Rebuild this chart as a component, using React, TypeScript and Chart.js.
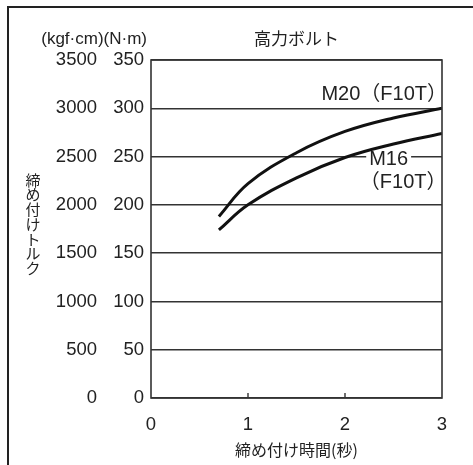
import React, { useEffect, useRef } from "react";
import { Chart, registerables } from "chart.js";

Chart.register(...registerables);

const timeM20 = [0.7, 1.0, 1.5, 2.0, 2.5, 3.0];
const torqueM20 = [188, 222, 254, 276, 290, 300];
const timeM16 = [0.7, 1.0, 1.5, 2.0, 2.5, 3.0];
const torqueM16 = [174, 200, 228, 249, 263, 274];

const title = "高力ボルト";
const unitHeader = "(kgf·cm)(N·m)";
const yTitleChars = ["締", "め", "付", "け", "ト", "ル", "ク"];
const xTitle = "締め付け時間(秒)";
const labelM20 = "M20（F10T）";
const labelM16a = "M16";
const labelM16b = "（F10T）";

const FONT = "'Liberation Sans', 'Noto Sans CJK JP', sans-serif";
const JP = "'Noto Sans CJK JP', 'Liberation Sans', sans-serif";
const INK = "#222";

const deco = {
  id: "deco",
  beforeDraw(chart: any) {
    const ctx = chart.ctx;
    ctx.save();
    ctx.fillStyle = "#fff";
    ctx.fillRect(0, 0, chart.width, chart.height);
    ctx.restore();
  },
  beforeDatasetsDraw(chart: any) {
    const ctx = chart.ctx;
    const x = chart.scales.x;
    const y = chart.scales.y;
    ctx.save();
    ctx.font = `20px ${FONT}`;
    ctx.textAlign = "center";
    ctx.textBaseline = "middle";
    const cx = x.getPixelForValue(2.45);
    const cy = y.getPixelForValue(250) + 3;
    const w = ctx.measureText(labelM16a).width;
    ctx.fillStyle = "#fff";
    ctx.fillRect(cx - w / 2 - 3, cy - 8, w + 6, 14);
    ctx.fillStyle = INK;
    ctx.fillText(labelM16a, cx, cy);
    ctx.restore();
  },
  afterDraw(chart: any) {
    const ctx = chart.ctx;
    const a = chart.chartArea;
    const x = chart.scales.x;
    const y = chart.scales.y;
    ctx.save();
    ctx.strokeStyle = INK;
    ctx.lineWidth = 2;
    ctx.beginPath();
    ctx.moveTo(8, chart.height);
    ctx.lineTo(8, 7);
    ctx.lineTo(chart.width, 7);
    ctx.stroke();
    ctx.strokeStyle = "#333";
    ctx.lineWidth = 1.6;
    ctx.strokeRect(a.left, a.top, a.right - a.left, a.bottom - a.top);
    ctx.lineWidth = 1.4;
    x.ticks.forEach((t: any) => {
      if (t.value <= x.min || t.value >= x.max) return;
      const px = x.getPixelForValue(t.value);
      ctx.beginPath();
      ctx.moveTo(px, a.bottom);
      ctx.lineTo(px, a.bottom - 5);
      ctx.stroke();
    });
    ctx.fillStyle = INK;
    ctx.textBaseline = "middle";
    ctx.textAlign = "center";
    ctx.font = `17px ${JP}`;
    ctx.fillText(title, (a.left + a.right) / 2, 38.5);
    ctx.textAlign = "right";
    ctx.font = `17px ${FONT}`;
    ctx.fillText(unitHeader, 147, 39.5);
    ctx.textAlign = "center";
    ctx.font = `15px ${JP}`;
    yTitleChars.forEach((c, i) => {
      ctx.fillText(c, 33, 180 + i * 14.7);
    });
    ctx.font = `16px ${JP}`;
    ctx.fillText(xTitle, (a.left + a.right) / 2, 450);
    ctx.font = `20px ${FONT}`;
    ctx.textAlign = "right";
    ctx.fillText(labelM20, a.right + 5, y.getPixelForValue(314));
    ctx.textAlign = "center";
    ctx.fillText(labelM16b, x.getPixelForValue(2.6), y.getPixelForValue(223));
    ctx.restore();
  },
};

export default function App() {
  const ref = useRef<HTMLCanvasElement | null>(null);
  useEffect(() => {
    if (!ref.current) return;
    const chart = new Chart(ref.current, {
      type: "line",
      data: {
        datasets: [
          {
            label: "M20",
            data: timeM20.map((t, i) => ({ x: t, y: torqueM20[i] })),
            borderColor: "#111",
            borderWidth: 3,
            pointRadius: 0,
            tension: 0.4,
            fill: false,
          },
          {
            label: "M16",
            data: timeM16.map((t, i) => ({ x: t, y: torqueM16[i] })),
            borderColor: "#111",
            borderWidth: 3,
            pointRadius: 0,
            tension: 0.4,
            fill: false,
          },
        ],
      },
      options: {
        animation: false,
        responsive: false,
        maintainAspectRatio: false,
        devicePixelRatio: 1,
        layout: { padding: { left: 0, top: 60, right: 31, bottom: 0 } },
        plugins: {
          legend: { display: false },
          title: { display: false },
          tooltip: { enabled: false },
        },
        scales: {
          x: {
            type: "linear",
            min: 0,
            max: 3,
            grid: { display: false, drawTicks: false },
            border: { display: false },
            ticks: {
              stepSize: 1,
              padding: 16,
              color: INK,
              font: { family: FONT, size: 18.5 },
              maxRotation: 0,
              callback: (v: any) => String(v),
            },
            afterFit(s: any) {
              s.height = 67;
            },
          },
          y: {
            type: "linear",
            position: "left",
            weight: 0,
            min: 0,
            max: 350,
            grid: { color: "#333", lineWidth: 1.5, drawTicks: false },
            border: { display: false },
            ticks: {
              stepSize: 50,
              padding: 7,
              color: INK,
              font: { family: FONT, size: 18.5 },
              callback: (v: any) => String(v),
            },
            afterFit(s: any) {
              s.width = 51;
            },
          },
          yk: {
            type: "linear",
            position: "left",
            weight: 1,
            min: 0,
            max: 3500,
            grid: { display: false, drawTicks: false },
            border: { display: false },
            ticks: {
              stepSize: 500,
              padding: 3,
              color: INK,
              font: { family: FONT, size: 18.5 },
              callback: (v: any) => String(v),
            },
            afterFit(s: any) {
              s.width = 100;
            },
          },
        },
      },
      plugins: [deco],
    } as any);
    return () => chart.destroy();
  }, []);
  return (
    <div style={{ position: "fixed", left: 0, top: 0, width: 473, height: 465 }}>
      <canvas ref={ref} width={473} height={465} style={{ display: "block", width: 473, height: 465 }} />
    </div>
  );
}
